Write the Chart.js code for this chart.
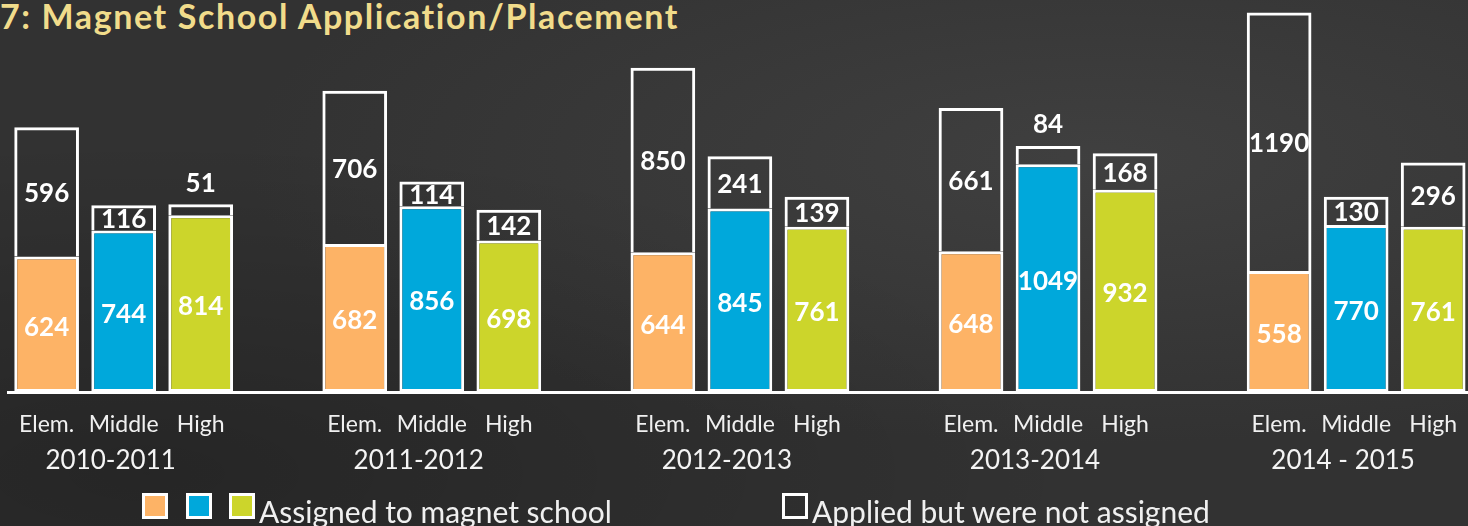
<!DOCTYPE html>
<html lang="en">
<head>
    <meta charset="UTF-8">
    <title>Magnet School Application/Placement</title>
    <script src="https://cdn.jsdelivr.net/npm/chart.js"></script>
    <style>
        body {
            margin: 0;
            width: 1468px;
            height: 526px;
            overflow: hidden;
            position: relative;
            font-family: Lato, sans-serif;
            background-color: #323232;
            background-image:
                radial-gradient(ellipse at 75% 30%, rgba(80, 80, 80, 0.45), rgba(0, 0, 0, 0) 55%),
                radial-gradient(ellipse at 10% 90%, rgba(0, 0, 0, 0.25), rgba(0, 0, 0, 0) 50%);
        }
        #title {
            position: absolute; left: 0; top: -5px;
            color: #f1dc8b; font-weight: bold; font-size: 34px; letter-spacing: 1.6px; white-space: nowrap;
        }
        .legend { position: absolute; top: 496px; line-height: 30px; color: #f0f0f0; font-size: 30px; white-space: nowrap; }
        .box { position: absolute; top: 493px; width: 20px; height: 20px; border: 3px solid #fff; }
        canvas { position: absolute; left: 0; top: 0; }
    </style>
</head>
<body>
    <div id="title">7: Magnet School Application/Placement</div>
    <canvas id="magnetChart" width="1476" height="526"></canvas>
    <span class="box" style="left:142px;background:#fdb366"></span>
    <span class="box" style="left:186px;background:#00a8db"></span>
    <span class="box" style="left:229px;background:#ccd52b"></span>
    <div class="legend" style="left: 259px;">Assigned to magnet school</div>
    <span class="box" style="left:782px;background:transparent"></span>
    <div class="legend" style="left: 812px;">Applied but were not assigned</div>
    <script>
        const years = ['2010-2011', '2011-2012', '2012-2013', '2013-2014', '2014 - 2015'];
        const levels = ['Elem.', 'Middle', 'High'];
        const levelColors = ['#fdb366', '#00a8db', '#ccd52b'];

        // assigned to magnet school, per level, one value per year
        const assignedElem = [624, 682, 644, 648, 558];
        const assignedMiddle = [744, 856, 845, 1049, 770];
        const assignedHigh = [814, 698, 761, 932, 761];

        // applied but were not assigned
        const notAssignedElem = [596, 706, 850, 661, 1190];
        const notAssignedMiddle = [116, 114, 241, 84, 130];
        const notAssignedHigh = [51, 142, 139, 168, 296];

        const assigned = [assignedElem, assignedMiddle, assignedHigh];
        const notAssigned = [notAssignedElem, notAssignedMiddle, notAssignedHigh];

        // one slot per bar, with an empty slot between the years
        const labels = [], dataA = [], dataN = [], colors = [], groupOf = [];
        years.forEach((year, g) => {
            levels.forEach((level, l) => {
                labels.push(level);
                dataA.push(assigned[l][g]);
                dataN.push(notAssigned[l][g]);
                colors.push(levelColors[l]);
                groupOf.push(l === 1 ? g : -1);
            });
            if (g < years.length - 1) {
                labels.push('');
                dataA.push(null);
                dataN.push(null);
                colors.push('rgba(0,0,0,0)');
                groupOf.push(-1);
            }
        });

        const barLabels = {
            id: 'barLabels',
            afterDatasetsDraw(chart) {
                const ctx = chart.ctx;
                const m0 = chart.getDatasetMeta(0);
                const m1 = chart.getDatasetMeta(1);
                ctx.save();
                ctx.fillStyle = '#ffffff';
                ctx.font = 'bold 26px Lato';
                ctx.textAlign = 'center';
                ctx.textBaseline = 'middle';
                m0.data.forEach((bar, i) => {
                    if (dataA[i] == null) return;
                    const a = bar.getProps(['x', 'y', 'base'], true);
                    ctx.fillText(String(dataA[i]), a.x, (a.y + a.base) / 2 + 3);
                    const t = m1.data[i].getProps(['x', 'y', 'base'], true);
                    const h = t.base - t.y;
                    const ty = h < 22 ? t.y - 21 : (t.y + t.base) / 2 + 2;
                    ctx.fillText(String(dataN[i]), t.x, ty);
                });
                // year under each group
                ctx.font = '26px Lato';
                ctx.fillStyle = '#f4f4f4';
                const xs = chart.scales.x;
                groupOf.forEach((g, i) => {
                    if (g < 0) return;
                    ctx.fillText(years[g], xs.getPixelForValue(i) - 13, 461);
                });
                ctx.restore();
            }
        };

        const ctx = document.getElementById('magnetChart').getContext('2d');
        new Chart(ctx, {
            type: 'bar',
            data: {
                labels: labels,
                datasets: [
                    {
                        label: 'Assigned to magnet school',
                        data: dataA,
                        backgroundColor: colors,
                        borderColor: '#ffffff',
                        borderWidth: 3,
                        borderSkipped: false
                    },
                    {
                        label: 'Applied but were not assigned',
                        data: dataN,
                        backgroundColor: 'rgba(0,0,0,0)',
                        borderColor: '#ffffff',
                        borderWidth: 3,
                        borderSkipped: 'bottom'
                    }
                ]
            },
            options: {
                responsive: false,
                animation: false,
                barPercentage: 0.84,
                categoryPercentage: 1,
                layout: { padding: { left: 7, right: 0, top: 10, bottom: 0 } },
                plugins: { legend: { display: false }, tooltip: { enabled: false } },
                scales: {
                    x: {
                        stacked: true,
                        grid: { display: false, drawTicks: false },
                        border: { display: true, color: '#ffffff', width: 3 },
                        ticks: {
                            autoSkip: false,
                            maxRotation: 0,
                            padding: 19,
                            color: '#f0f0f0',
                            font: { family: 'Lato', size: 23 }
                        },
                        afterFit(scale) { scale.height = 134; }
                    },
                    y: {
                        stacked: true,
                        display: false,
                        min: 0,
                        max: 1760
                    }
                }
            },
            plugins: [barLabels]
        });
    </script>
</body>
</html>
